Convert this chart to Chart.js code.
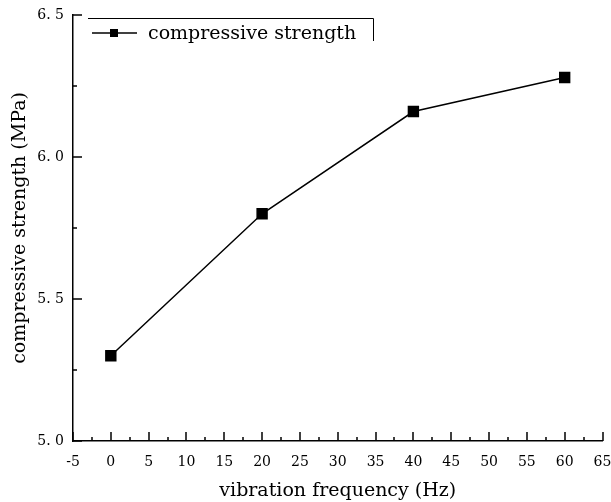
<!DOCTYPE html>
<html>
<head>
<meta charset="utf-8">
<script src="https://cdn.jsdelivr.net/npm/chart.js@4"></script>
<style>
    html, body { margin: 0; padding: 0; background: #fff; }
    #wrap { width: 611px; height: 502px; }
</style>
</head>
<body>
<div id="wrap"><canvas id="chart"></canvas></div>
<script>
// Data
const frequencies = [0, 20, 40, 60];
const strengths = [5.30, 5.80, 6.16, 6.28];
const xMajorTicks = [-5, 0, 5, 10, 15, 20, 25, 30, 35, 40, 45, 50, 55, 60, 65];
const xMinorTicks = [-2.5, 2.5, 7.5, 12.5, 17.5, 22.5, 27.5, 32.5, 37.5, 42.5, 47.5, 52.5, 57.5, 62.5];
const yMajorTicks = [5.0, 5.5, 6.0, 6.5];
const yMinorTicks = [5.25, 5.75, 6.25];
const seriesLabel = 'compressive strength';

const FONT = '"DejaVu Serif", "Liberation Serif", serif';

// Inward tick marks (major + minor) drawn from the scales
const innerTicks = {
    id: 'innerTicks',
    afterDraw(chart) {
        const ctx = chart.ctx;
        const x = chart.scales.x, y = chart.scales.y;
        const area = chart.chartArea;
        ctx.save();
        ctx.strokeStyle = '#000';
        ctx.lineWidth = 1.5;
        ctx.beginPath();
        xMajorTicks.forEach(v => {
            const px = Math.round(x.getPixelForValue(v));
            ctx.moveTo(px, area.bottom); ctx.lineTo(px, area.bottom - 9);
        });
        xMinorTicks.forEach(v => {
            const px = Math.round(x.getPixelForValue(v));
            ctx.moveTo(px, area.bottom); ctx.lineTo(px, area.bottom - 4);
        });
        yMajorTicks.forEach(v => {
            const py = Math.round(y.getPixelForValue(v));
            ctx.moveTo(area.left, py); ctx.lineTo(area.left + 9, py);
        });
        yMinorTicks.forEach(v => {
            const py = Math.round(y.getPixelForValue(v));
            ctx.moveTo(area.left, py); ctx.lineTo(area.left + 4, py);
        });
        ctx.stroke();
        ctx.restore();
    }
};

// Legend box in the top-left corner
const legendBox = {
    id: 'legendBox',
    afterDraw(chart) {
        const ctx = chart.ctx;
        const area = chart.chartArea;
        const left = area.left + 15, top = area.top + 3, right = area.left + 300, bottom = area.top + 26;
        ctx.save();
        ctx.strokeStyle = '#000';
        ctx.lineWidth = 1;
        ctx.beginPath();
        ctx.moveTo(left, top + 0.5);
        ctx.lineTo(right + 0.5, top + 0.5);
        ctx.lineTo(right + 0.5, bottom);
        ctx.stroke();
        // sample line + marker
        const ly = top + 15;
        ctx.lineWidth = 1.5;
        ctx.beginPath();
        ctx.moveTo(left + 4, ly); ctx.lineTo(left + 49, ly);
        ctx.stroke();
        ctx.fillStyle = '#000';
        ctx.fillRect(left + 22, ly - 4, 8, 8);
        ctx.font = '19px ' + FONT;
        ctx.textBaseline = 'alphabetic';
        ctx.fillText(seriesLabel, left + 60, ly + 6);
        ctx.restore();
    }
};

new Chart(document.getElementById('chart'), {
    type: 'line',
    data: {
        datasets: [{
            label: seriesLabel,
            data: frequencies.map((f, i) => ({ x: f, y: strengths[i] })),
            borderColor: '#000',
            backgroundColor: '#000',
            borderWidth: 1.5,
            pointStyle: 'rect',
            pointRadius: 7,
            pointHoverRadius: 7,
            tension: 0
        }]
    },
    options: {
        responsive: true,
        maintainAspectRatio: false,
        animation: false,
        layout: { padding: { top: 15, right: 7, left: 0, bottom: 0 } },
        plugins: {
            legend: { display: false },
            tooltip: { enabled: false }
        },
        scales: {
            x: {
                type: 'linear',
                min: -5,
                max: 65,
                afterBuildTicks: scale => { scale.ticks = xMajorTicks.map(v => ({ value: v })); },
                afterFit: scale => {
                    scale.height = 61;
                    scale.paddingLeft = 0;
                    scale.paddingRight = 0;
                },
                grid: { display: false, drawTicks: false },
                border: { display: true, color: '#000', width: 1.5 },
                ticks: {
                    color: '#000',
                    padding: 13,
                    maxRotation: 0,
                    autoSkip: false,
                    font: { family: FONT, size: 14 }
                },
                title: {
                    display: true,
                    text: 'vibration frequency (Hz)',
                    color: '#000',
                    padding: { top: 0, bottom: 0 },
                    font: { family: FONT, size: 19 }
                }
            },
            y: {
                type: 'linear',
                min: 5.0,
                max: 6.5,
                afterBuildTicks: scale => { scale.ticks = yMajorTicks.map(v => ({ value: v })); },
                afterFit: scale => {
                    scale.width = 73;
                    scale.paddingTop = 0;
                    scale.paddingBottom = 0;
                },
                grid: { display: false, drawTicks: false },
                border: { display: true, color: '#000', width: 1.5 },
                ticks: {
                    color: '#000',
                    padding: 9,
                    autoSkip: false,
                    font: { family: FONT, size: 14 },
                    callback: v => v.toFixed(1).replace('.', '. ')
                },
                title: {
                    display: true,
                    text: 'compressive strength (MPa)',
                    color: '#000',
                    padding: { top: 9, bottom: 0 },
                    font: { family: FONT, size: 19 }
                }
            }
        }
    },
    plugins: [innerTicks, legendBox]
});
</script>
</body>
</html>
